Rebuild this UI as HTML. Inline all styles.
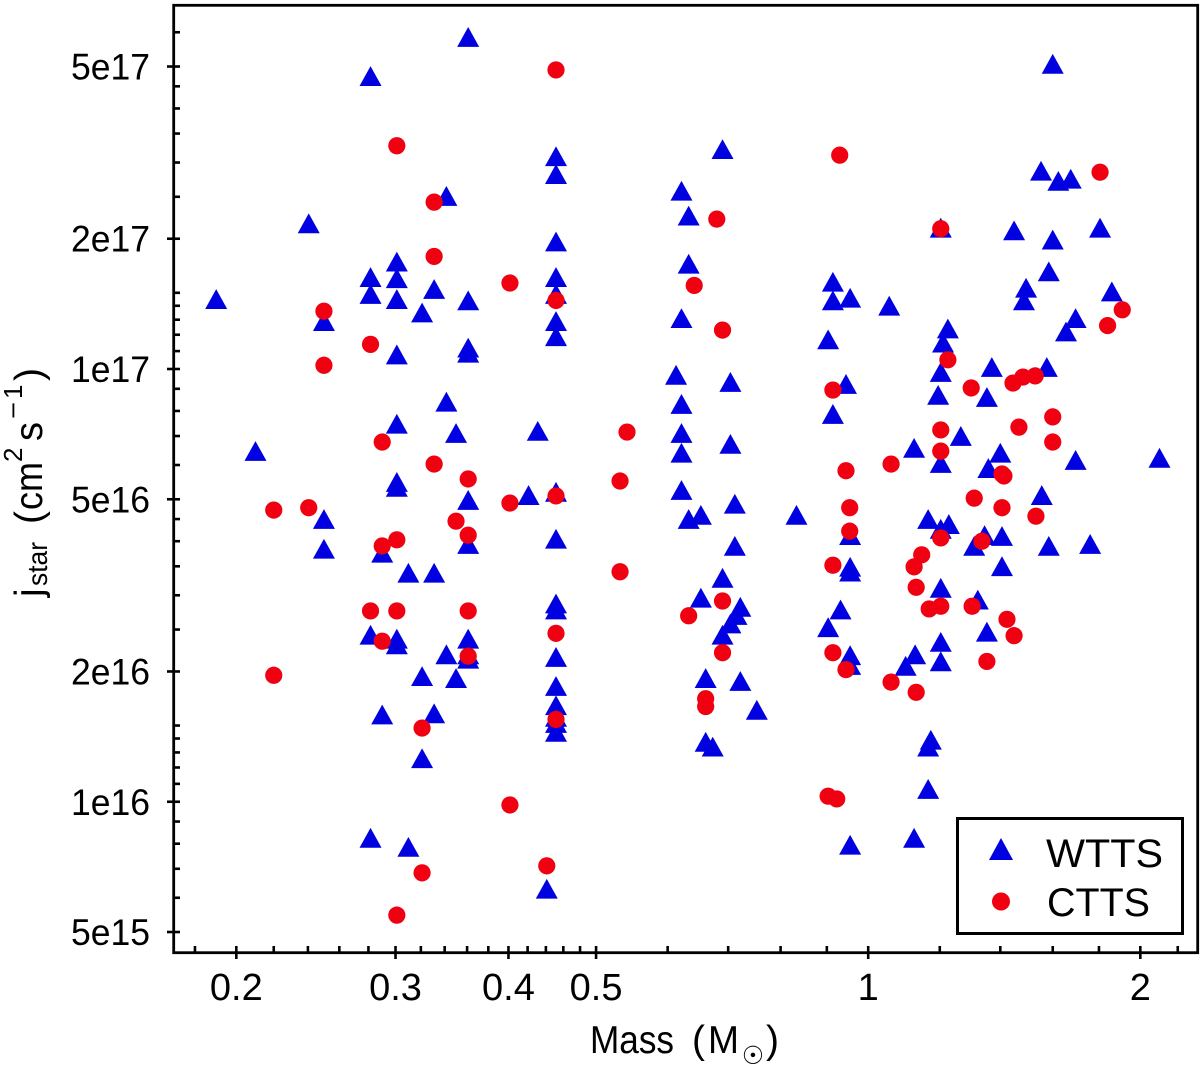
<!DOCTYPE html>
<html lang="en">
<head>
<meta charset="utf-8">
<title>Specific angular momentum versus stellar mass</title>
<style>
html,body{margin:0;padding:0;background:#fff;width:1200px;height:1066px;overflow:hidden}
svg{display:block}
text{font-family:"Liberation Sans",sans-serif;fill:#000}
</style>
</head>
<body>
<svg id="chart" xmlns="http://www.w3.org/2000/svg" width="1200" height="1066" viewBox="0 0 1200 1066">
  <rect x="0" y="0" width="1200" height="1066" fill="#fff"/>
  <g id="ticks"></g>
  <g id="tick-labels"></g>
  <g id="wtts"></g>
  <g id="ctts"></g>
  <rect x="173.7" y="5.3" width="1024" height="947.4" fill="none" stroke="#000" stroke-width="2.8"/>

  <g>
    <text x="590" y="1053" font-size="39" textLength="84" lengthAdjust="spacingAndGlyphs">Mass</text>
    <text x="692" y="1053" font-size="39">(</text>
    <text x="708" y="1053" font-size="39" textLength="31" lengthAdjust="spacingAndGlyphs">M</text>
    <text x="753" y="1064" font-size="25" text-anchor="middle" style="font-family:'DejaVu Sans',sans-serif">☉</text>
    <text x="766" y="1053" font-size="39">)</text>
  </g>

  <g>
    <text transform="translate(42,597) rotate(-90)" font-size="39">j</text>
    <text transform="translate(47,586) rotate(-90)" font-size="28" textLength="44" lengthAdjust="spacingAndGlyphs">star</text>
    <text transform="translate(42,524) rotate(-90)" font-size="39">(</text>
    <text transform="translate(42,510) rotate(-90)" font-size="39" textLength="48" lengthAdjust="spacingAndGlyphs">cm</text>
    <text transform="translate(22,462) rotate(-90)" font-size="26">2</text>
    <text transform="translate(42,441) rotate(-90)" font-size="39" textLength="19" lengthAdjust="spacingAndGlyphs">s</text>
    <text transform="translate(22,419) rotate(-90)" font-size="26" textLength="17" lengthAdjust="spacingAndGlyphs">−</text>
    <text transform="translate(22,399) rotate(-90)" font-size="26">1</text>
    <text transform="translate(42,381) rotate(-90)" font-size="39">)</text>
  </g>

  <g>
    <rect x="957.5" y="818.5" width="225" height="115" fill="#fff" stroke="#000" stroke-width="3"/>
    <g>
      <polygon points="1001,838 1013,860 989,860" fill="#0000e0"/>
      <text x="1046" y="867" font-size="40" textLength="117" lengthAdjust="spacingAndGlyphs">WTTS</text>
    </g>
    <g>
      <circle cx="1001" cy="901.5" r="9" fill="#f00010"/>
      <text x="1047" y="916" font-size="40" textLength="103" lengthAdjust="spacingAndGlyphs">CTTS</text>
    </g>
  </g>
</svg>

<script>
var xTickMajor = [0.2, 0.3, 0.4, 0.5, 1, 2];
var xTickLabels = ["0.2", "0.3", "0.4", "0.5", "1", "2"];
var xTickMinor = [0.18, 0.22, 0.24, 0.26, 0.28, 0.32, 0.34, 0.36, 0.38, 0.42, 0.44, 0.46, 0.48, 0.6, 0.7, 0.8, 0.9, 1.2, 1.4, 1.6, 1.8, 2.2];
var yTickMajor = [5e17, 2e17, 1e17, 5e16, 2e16, 1e16, 5e15];
var yTickLabels = ["5e17", "2e17", "1e17", "5e16", "2e16", "1e16", "5e15"];
var yTickMinor = [6e17, 4.5e17, 4e17, 3.5e17, 3e17, 2.5e17, 1.5e17, 1.4e17, 1.3e17, 1.2e17, 1.1e17, 9e16, 8e16, 7e16, 6e16, 4.5e16, 4e16, 3.5e16, 3e16, 2.5e16, 1.5e16, 1.4e16, 1.3e16, 1.2e16, 1.1e16, 9e15, 8e15, 7e15, 6e15];

var wttsMass = [
  0.361,0.2815,0.3415,0.2405,0.19,0.25,0.2815,0.2815,0.301,0.301,0.301,0.331,0.321,0.361,0.301,0.361,0.361,0.3415,0.301,0.35,0.21,0.301,0.301,0.361,0.25,0.25,0.29,0.361,0.31,0.331,0.2815,0.301,0.301,0.361,0.3415,0.361,0.361,0.321,0.35,0.29,0.331,0.321,0.2815,0.31,
  0.4515,0.4515,0.4515,0.4515,0.4515,0.4515,0.4515,0.4515,0.4515,0.4515,0.4515,0.4515,0.4515,0.4515,0.4515,0.4515,0.4515,0.441,0.421,0.431,
  0.69,0.6215,0.633,0.633,0.6215,0.613,0.704,0.6215,0.6215,0.6215,0.704,0.6215,0.712,0.833,0.653,0.633,0.712,0.69,0.653,0.722,0.715,0.704,0.69,0.661,0.722,0.753,0.661,0.673,
  0.914,0.914,0.955,0.903,0.945,0.914,0.955,0.955,0.955,0.932,0.903,0.955,0.955,0.955,
  1.60,1.553,1.623,1.675,1.203,1.45,1.60,1.805,1.584,1.495,1.487,1.86,1.055,1.696,1.655,1.225,1.21,1.203,1.37,1.576,1.195,1.353,1.266,1.124,1.40,1.203,1.696,2.10,1.358,1.556,1.165,1.203,1.228,1.345,1.31,1.406,1.584,1.76,1.406,1.203,1.322,1.353,1.203,1.127,1.10,1.203,1.173,1.165,1.165,1.124
];
var wttsJ = [
  5.85e17,4.75e17,2.51e17,2.17e17,1.45e17,1.29e17,1.63e17,1.49e17,1.77e17,1.62e17,1.45e17,1.53e17,1.35e17,1.44e17,1.08e17,1.12e17,1.09e17,8.4e16,7.47e16,7.11e16,6.46e16,5.34e16,5.48e16,4.98e16,4.5e16,3.84e16,3.76e16,3.94e16,3.38e16,3.38e16,2.43e16,2.31e16,2.38e16,2.38e16,2.19e16,2.14e16,2.19e16,1.95e16,1.93e16,1.59e16,1.60e16,1.26e16,8.25e15,7.86e15,
  3.1e17,2.82e17,1.97e17,1.63e17,1.49e17,1.29e17,1.19e17,5.2e16,4.05e16,2.87e16,2.78e16,2.16e16,1.85e16,1.67e16,1.57e16,1.52e16,1.45e16,6.29e15,5.11e16,7.19e16,
  3.22e17,2.58e17,2.26e17,1.75e17,1.31e17,9.69e16,9.33e16,8.3e16,7.11e16,6.4e16,6.71e16,5.25e16,4.88e16,4.6e16,4.6e16,4.5e16,3.9e16,3.29e16,2.96e16,2.82e16,2.7e16,2.58e16,2.43e16,1.93e16,1.9e16,1.63e16,1.375e16,1.34e16,
  1.59e17,1.44e17,1.46e17,1.17e17,9.23e16,7.87e16,4.13e16,3.4e16,3.49e16,2.78e16,2.53e16,2.18e16,2.07e16,7.95e15,
  5.07e17,2.87e17,2.72e17,2.75e17,2.12e17,2.09e17,1.99e17,2.12e17,1.68e17,1.54e17,1.44e17,1.51e17,1.40e17,1.31e17,1.22e17,1.24e17,1.15e17,9.84e16,1.01e17,1.01e17,8.71e16,8.61e16,7e16,6.57e16,6.4e16,6.06e16,6.16e16,6.23e16,5.9e16,5.11e16,4.5e16,4.27e16,4.38e16,4.13e16,3.9e16,4.11e16,3.9e16,3.94e16,3.5e16,3.12e16,2.93e16,2.47e16,2.34e16,2.19e16,2.06e16,2.11e16,1.39e16,1.34e16,1.07e16,8.25e15
];
var cttsMass = [
  0.301,0.331,0.331,0.25,0.4015,0.2815,0.25,0.29,0.331,0.361,0.22,0.2405,0.4015,0.35,0.361,0.301,0.29,0.2815,0.301,0.361,0.29,0.361,0.22,0.321,0.4015,0.321,0.301,
  0.4515,0.93,0.68,0.4515,0.642,0.69,0.914,0.541,0.945,0.5315,0.4515,0.954,0.954,0.914,0.5315,0.69,0.633,0.4515,0.69,0.914,0.945,0.661,0.661,0.4515,0.441,0.903,0.923,
  1.203,1.805,1.91,1.84,1.225,1.30,1.446,1.483,1.53,1.60,1.468,1.60,1.203,1.203,1.06,1.406,1.413,1.31,1.406,1.533,1.203,1.336,1.146,1.124,1.13,1.168,1.203,1.303,1.424,1.45,1.353,1.06,1.13
];
var cttsJ = [
  3.28e17,2.43e17,1.82e17,1.36e17,1.58e17,1.14e17,1.02e17,6.78e16,6.03e16,5.57e16,4.72e16,4.78e16,4.9e16,4.45e16,4.13e16,4.03e16,3.9e16,2.76e16,2.76e16,2.76e16,2.35e16,2.17e16,1.96e16,1.48e16,9.83e15,6.85e15,5.47e15,
  4.91e17,3.12e17,2.22e17,1.44e17,1.56e17,1.23e17,8.94e16,7.15e16,5.82e16,5.51e16,5.09e16,4.78e16,4.22e16,3.52e16,3.4e16,2.91e16,2.69e16,2.45e16,2.21e16,2.21e16,2.02e16,1.73e16,1.66e16,1.55e16,7.11e15,1.03e16,1.015e16,
  2.11e17,2.85e17,1.37e17,1.26e17,1.05e17,9.04e16,9.28e16,9.58e16,9.64e16,7.75e16,7.34e16,6.78e16,7.23e16,6.46e16,6.03e16,5.72e16,5.66e16,5.03e16,4.78e16,4.57e16,4.07e16,4.0e16,3.72e16,3.49e16,3.13e16,2.79e16,2.83e16,2.83e16,2.64e16,2.42e16,2.11e16,1.89e16,1.79e16
];

var SVG_NS = "http://www.w3.org/2000/svg";
function xScale(m) { return 868.2 + 904 * Math.log10(m); }
function yScale(j) { return 369 - 432.75 * (Math.log10(j) - 17); }

function line(parent, x1, y1, x2, y2, w) {
  var el = document.createElementNS(SVG_NS, "line");
  el.setAttribute("x1", x1);
  el.setAttribute("y1", y1);
  el.setAttribute("x2", x2);
  el.setAttribute("y2", y2);
  el.setAttribute("stroke", "#000");
  el.setAttribute("stroke-width", w);
  parent.appendChild(el);
  return el;
}

var tickGroup = document.getElementById("ticks");
var labelGroup = document.getElementById("tick-labels");

xTickMinor.forEach(function (v) {
  var x = xScale(v);
  var el = line(tickGroup, x, 946, x, 953, 2.6);
  
  
});
xTickMajor.forEach(function (v, i) {
  var x = xScale(v);
  var el = line(tickGroup, x, 946, x, 959, 2.6);
  
  
  var t = document.createElementNS(SVG_NS, "text");
  t.setAttribute("x", x);
  t.setAttribute("y", 1000);
  t.setAttribute("font-size", 38);
  t.setAttribute("text-anchor", "middle");
  t.textContent = xTickLabels[i];
  
  
  labelGroup.appendChild(t);
});
yTickMinor.forEach(function (v) {
  var y = yScale(v);
  var el = line(tickGroup, 173, y, 180, y, 2.6);
  
  
});
yTickMajor.forEach(function (v, i) {
  var y = yScale(v);
  var el = line(tickGroup, 167, y, 180, y, 2.6);
  
  
  var t = document.createElementNS(SVG_NS, "text");
  t.setAttribute("x", 71);
  t.setAttribute("y", y + 13);
  t.setAttribute("font-size", 37);
  t.setAttribute("textLength", 79);
  t.setAttribute("lengthAdjust", "spacingAndGlyphs");
  t.textContent = yTickLabels[i];
  
  
  labelGroup.appendChild(t);
});

var wttsGroup = document.getElementById("wtts");
wttsMass.forEach(function (m, i) {
  var cx = xScale(m);
  var cy = yScale(wttsJ[i]);
  var p = document.createElementNS(SVG_NS, "polygon");
  p.setAttribute("points", cx + "," + (cy - 10) + " " + (cx + 11) + "," + (cy + 9.8) + " " + (cx - 11) + "," + (cy + 9.8));
  p.setAttribute("fill", "#0000e0");
  
  
  wttsGroup.appendChild(p);
});

var cttsGroup = document.getElementById("ctts");
cttsMass.forEach(function (m, i) {
  var c = document.createElementNS(SVG_NS, "circle");
  c.setAttribute("cx", xScale(m));
  c.setAttribute("cy", yScale(cttsJ[i]));
  c.setAttribute("r", 8.6);
  c.setAttribute("fill", "#f00010");
  
  
  cttsGroup.appendChild(c);
});
</script>
</body>
</html>
